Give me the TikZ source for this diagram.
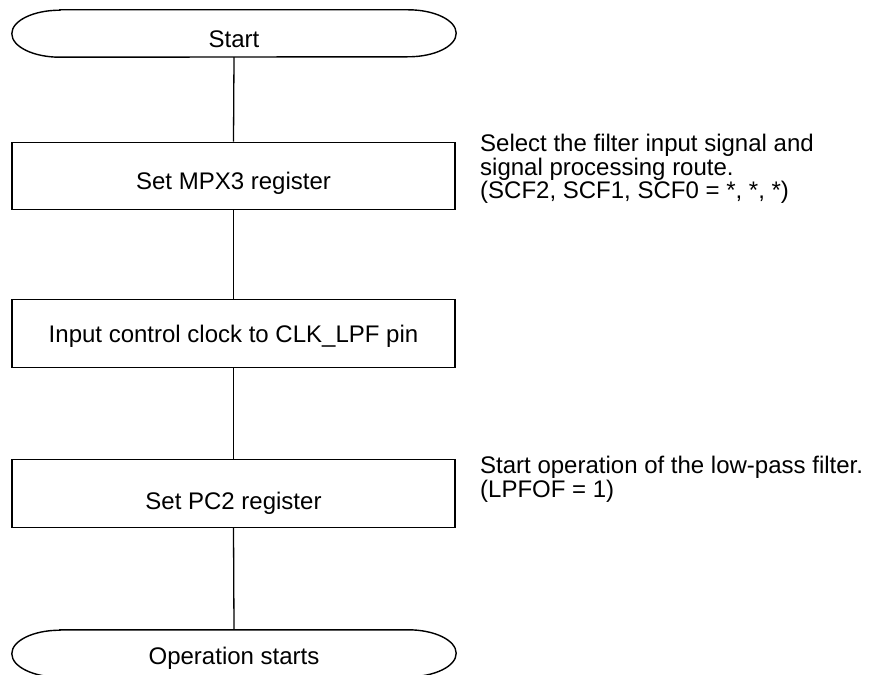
\documentclass[tikz,border=0pt]{standalone}
\usepackage{fontspec}
\setmainfont{Liberation Sans}
\begin{document}
\begin{tikzpicture}[x=1pt,y=1pt,
  proc/.style={draw, line width=1.4pt, minimum width=443pt, minimum height=67.5pt, inner sep=0pt, font=\fontsize{24}{28}\selectfont},
  term/.style={minimum width=444pt, minimum height=47pt, inner sep=0pt, font=\fontsize{24}{28}\selectfont},
  termline/.style={line width=1.4pt},
  note/.style={anchor=base west, align=left, inner sep=0pt, font=\fontsize{24}{21.7}\selectfont},
  link/.style={line width=1.3pt}]
\useasboundingbox (0,0) rectangle (869,-674);
% nodes
\node[term] (start) at (234,-33.5) {\raisebox{-14.5pt}[0pt][0pt]{Start}};
\node[proc] (mpx) at (233.5,-176) {\raisebox{-13pt}[0pt][0pt]{Set MPX3 register}};
\node[proc] (clk) at (233.5,-333.5) {\raisebox{-8.5pt}[0pt][0pt]{Input control clock to CLK\_LPF pin}};
\node[proc] (pc2) at (233.5,-493.5) {\raisebox{-15.5pt}[0pt][0pt]{Set PC2 register}};
\node[term] (stop) at (234,-653.5) {\raisebox{-10.5pt}[0pt][0pt]{Operation starts}};
% terminal outlines
\foreach \n in {start,stop}{
  \draw[termline] ([xshift=48pt]\n.north west) -- ([xshift=-48pt]\n.north east)
    arc[start angle=90,end angle=-90,x radius=48pt,y radius=23.5pt]
    -- ([xshift=48pt]\n.south west)
    arc[start angle=270,end angle=90,x radius=48pt,y radius=23.5pt] -- cycle;
}
% connectors
\draw[link] (start.south) -- (mpx.north);
\draw[link] (mpx.south) -- (clk.north);
\draw[link] (clk.south) -- (pc2.north);
\draw[link] (pc2.south) -- (stop.north);
% notes (base anchor = baseline of the last line)
\node[note] (n1) at (480,-198.5) {Select the filter input signal and\\signal processing route.\\(SCF2, SCF1, SCF0 = *, *, *)};
\node[note] (n2) at (480,-497) {Start operation of the low-pass filter.\\(LPFOF = 1)};
\end{tikzpicture}
\end{document}
